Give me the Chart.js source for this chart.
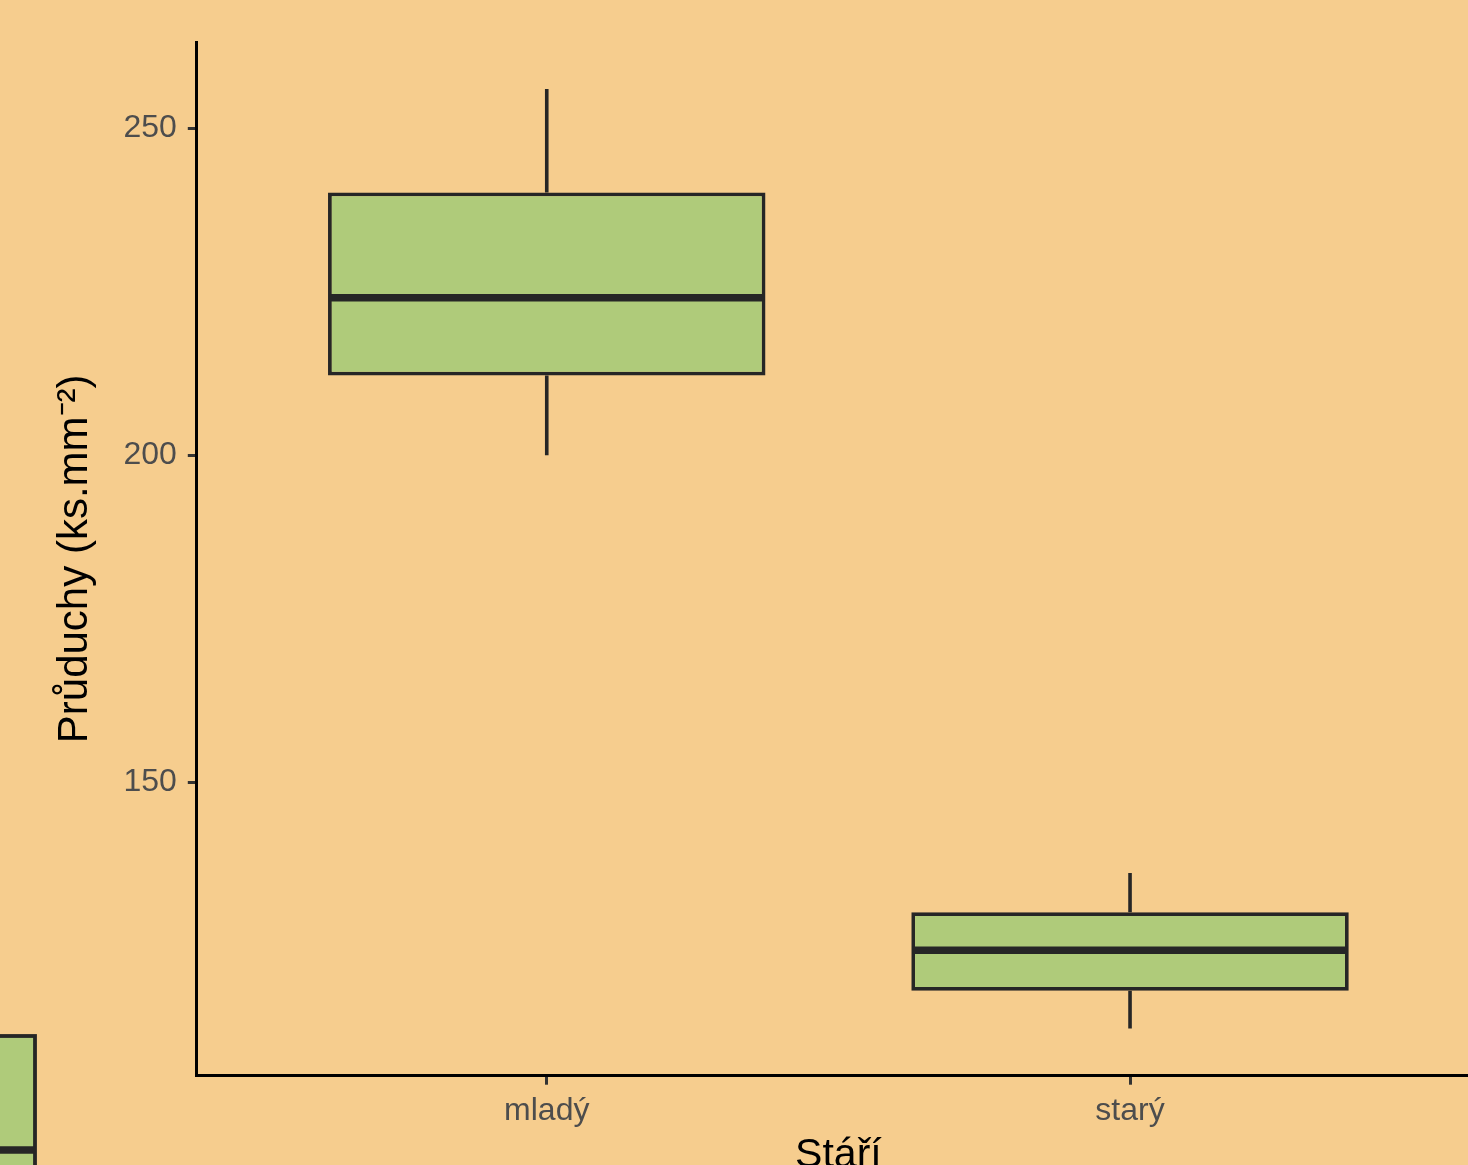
<!DOCTYPE html>
<html>
<head>
<meta charset="utf-8">
<script src="https://cdn.jsdelivr.net/npm/chart.js@4.4.1/dist/chart.umd.min.js"></script>
<style>
  html, body { margin: 0; padding: 0; background: #F6CD8E; overflow: hidden; width: 1468px; height: 1165px; }
  canvas { display: block; }
</style>
</head>
<body>
<canvas id="c" width="1490" height="1199"></canvas>
<script>
// ---- data ----
const categories = ['mladý', 'starý'];
const whiskerLow  = [200.0, 112.3];
const q1          = [212.2, 118.1];
const median      = [224.1, 124.3];
const q3          = [240.2, 130.1];
const whiskerHigh = [256.0, 136.1];
const yTicks = [150, 200, 250];
const xTitle = 'Stáří';
const yTitle = 'Průduchy (ks.mm⁻²)';

const positions = categories.map((_, i) => i + 1);
const BG = '#F6CD8E';
const FILL = '#AFCB7A';
const LINE = '#262626';
const BOXW = 0.75;
const FONT = 'Liberation Sans, Arial, sans-serif';

const bgPlugin = {
  id: 'bg',
  beforeDraw(chart) {
    const ctx = chart.ctx;
    ctx.save();
    ctx.fillStyle = BG;
    ctx.fillRect(0, 0, chart.width, chart.height);
    ctx.restore();
  }
};

const boxPlugin = {
  id: 'boxparts',
  beforeDatasetsDraw(chart) {
    const ctx = chart.ctx, xs = chart.scales.x, ys = chart.scales.y;
    ctx.save();
    ctx.strokeStyle = LINE;
    ctx.lineWidth = 3.6;
    positions.forEach((p, i) => {
      const x = xs.getPixelForValue(p);
      ctx.beginPath();
      ctx.moveTo(x, ys.getPixelForValue(whiskerLow[i]));
      ctx.lineTo(x, ys.getPixelForValue(q1[i]));
      ctx.moveTo(x, ys.getPixelForValue(q3[i]));
      ctx.lineTo(x, ys.getPixelForValue(whiskerHigh[i]));
      ctx.stroke();
    });
    ctx.restore();
  },
  afterDatasetsDraw(chart) {
    const ctx = chart.ctx, xs = chart.scales.x, ys = chart.scales.y;
    ctx.save();
    ctx.strokeStyle = LINE;
    ctx.lineWidth = 7.5;
    positions.forEach((p, i) => {
      const x0 = xs.getPixelForValue(p - BOXW / 2);
      const x1 = xs.getPixelForValue(p + BOXW / 2);
      const y = ys.getPixelForValue(median[i]);
      ctx.beginPath();
      ctx.moveTo(x0 + 1, y);
      ctx.lineTo(x1 - 1, y);
      ctx.stroke();
    });
    ctx.restore();
  },
  afterDraw(chart) {
    // partially visible legend key at the lower left
    const ctx = chart.ctx;
    ctx.save();
    ctx.fillStyle = FILL;
    ctx.strokeStyle = LINE;
    ctx.lineWidth = 3.8;
    ctx.fillRect(-20, 1036, 55, 200);
    ctx.strokeRect(-20, 1036, 55, 200);
    ctx.lineWidth = 7.5;
    ctx.beginPath();
    ctx.moveTo(-20, 1150);
    ctx.lineTo(35, 1150);
    ctx.stroke();
    ctx.restore();
  }
};

new Chart(document.getElementById('c'), {
  type: 'bar',
  data: {
    datasets: [{
      data: positions.map((p, i) => ({ x: p, y: [q1[i], q3[i]] })),
      backgroundColor: FILL,
      borderColor: LINE,
      borderWidth: 3.8,
      borderSkipped: false,
      barPercentage: BOXW,
      categoryPercentage: 1.0
    }]
  },
  options: {
    responsive: false,
    animation: false,
    events: [],
    layout: { padding: { top: 42, right: 10, bottom: 25, left: 0 } },
    plugins: { legend: { display: false }, tooltip: { enabled: false } },
    scales: {
      x: {
        type: 'linear',
        min: 0.4,
        max: 2.6,
        offset: false,
        afterBuildTicks(axis) { axis.ticks = positions.map(v => ({ value: v })); },
        ticks: {
          callback: (v) => categories[Math.round(v) - 1] || '',
          font: { family: FONT, size: 32 },
          color: '#4D4D4D',
          padding: 7,
          maxRotation: 0,
          autoSkip: false
        },
        grid: { display: true, offset: false, drawOnChartArea: false, tickLength: 9, tickColor: '#333333', tickWidth: 3 },
        border: { display: true, color: '#000000', width: 3 },
        title: {
          display: true,
          text: xTitle,
          color: '#000000',
          font: { family: FONT, size: 41, lineHeight: 0.9 },
          padding: { top: 0, bottom: 0 }
        }
      },
      y: {
        type: 'linear',
        min: 105.1,
        max: 263.2,
        afterBuildTicks(axis) { axis.ticks = yTicks.map(v => ({ value: v })); },
        ticks: {
          font: { family: FONT, size: 32 },
          color: '#4D4D4D',
          padding: 11
        },
        grid: { display: true, offset: false, drawOnChartArea: false, tickLength: 9, tickColor: '#333333', tickWidth: 3 },
        border: { display: true, color: '#000000', width: 3 },
        title: {
          display: true,
          text: yTitle,
          color: '#000000',
          font: { family: FONT, size: 42 },
          padding: { top: 50, bottom: 12 }
        }
      }
    }
  },
  plugins: [bgPlugin, boxPlugin]
});
</script>
</body>
</html>
